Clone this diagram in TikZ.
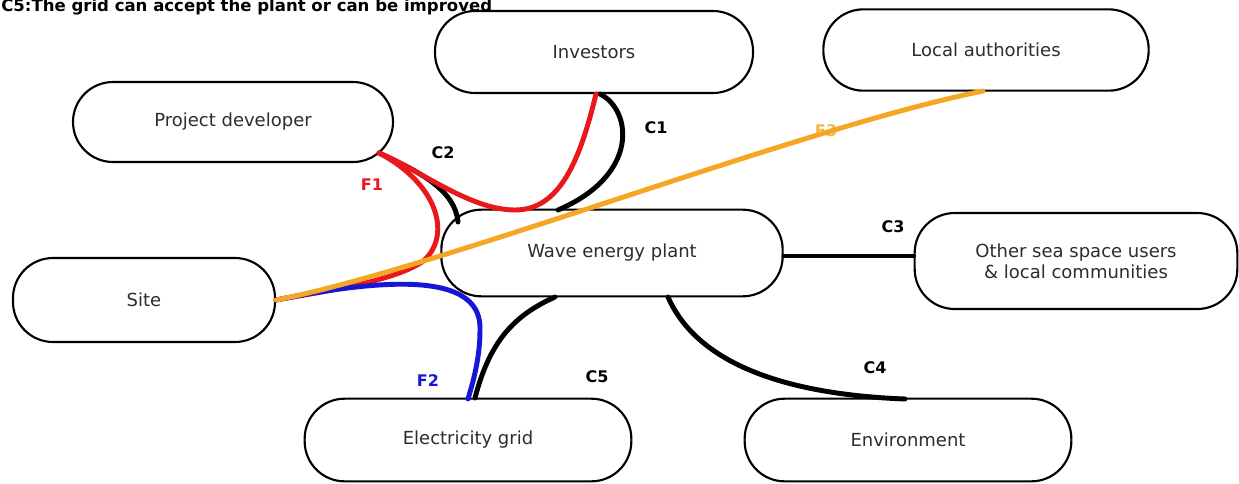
\documentclass[tikz,border=0pt]{standalone}
\usepackage{fontspec}
\setmainfont{DejaVu Sans}
\definecolor{fred}{RGB}{232,24,28}
\definecolor{fblue}{RGB}{22,22,215}
\definecolor{forange}{RGB}{245,166,35}
\definecolor{txt}{RGB}{45,45,45}
\begin{document}
\begin{tikzpicture}[x=0.75pt,y=-0.75pt,
  box/.style={draw=black,line width=1.6pt,fill=white,rounded corners=30pt,
    text=txt,font=\fontsize{13.5}{16}\selectfont,align=center,inner sep=0pt},
  link/.style={line width=3.7pt,line cap=round},
  lab/.style={font=\bfseries\fontsize{12}{14}\selectfont}]
\useasboundingbox (0,0) rectangle (1239,483);
\clip (0,0) rectangle (1239,483);
\fill[white] (0,0) rectangle (1239,483);
% title (cut off at the top)
\node[font=\bfseries\fontsize{12.4}{14}\selectfont,anchor=base west,inner sep=0pt,text=black] (title) at (1,11) {C5:The grid can accept the plant or can be improved};
% nodes
\node[box,minimum width=238.5pt,minimum height=61.5pt] (inv) at (594,52) {Investors};
\node[box,minimum width=244pt,minimum height=61pt] (loc) at (986,50) {Local authorities};
\node[box,minimum width=240pt,minimum height=60pt] (pd) at (233,122) {Project developer};
\node[box,minimum width=196.5pt,minimum height=63pt] (site) at (144,300) {Site};
\node[box,minimum width=256pt,minimum height=65pt] (wave) at (612,253) {Wave energy plant};
\node[box,minimum width=242pt,minimum height=72pt] (oth) at (1076,261) {Other sea space users\\\& local communities};
\node[box,minimum width=245pt,minimum height=62pt] (grid) at (468,440) {Electricity grid};
\node[box,minimum width=245pt,minimum height=62pt] (env) at (908,440) {Environment};
% labels
\node[lab] (lc1) at (656,128) {C1};
\node[lab] (lc2) at (443,153) {C2};
\node[lab] (lc3) at (893,227) {C3};
\node[lab] (lc4) at (875,368) {C4};
\node[lab] (lc5) at (597,377) {C5};
\node[lab,text=fred] (lf1) at (372,185) {F1};
\node[lab,text=fblue] (lf2) at (428,381) {F2};
\node[lab,text=forange!80] (lf3) at (826,131) {F3};
% black connectors
\draw[link] ([shift={(6,42)}]inv.center) .. controls (632,110) and (640,175) .. ([shift={(-54,-43)}]wave.center);
\draw[link] ([shift={(146,31)}]pd.center) .. controls (420,172) and (455,190) .. ([shift={(-154,-31)}]wave.center);
\draw[link] (wave.east |- 0,256) -- (oth.west |- 0,256);
\draw[link] ([shift={(56,44)}]wave.center) .. controls (700,370) and (800,395) .. ([shift={(-3,-41)}]env.center);
\draw[link] ([shift={(7,-42)}]grid.center) .. controls (490,340) and (515,315) .. ([shift={(-57,44)}]wave.center);
% red F1
\draw[link,fred] ([shift={(2,42)}]inv.center) .. controls (580,160) and (560,210) .. (515,210)
   .. controls (470,210) and (420,170) .. ([shift={(146,31)}]pd.center);
\draw[link,fred] ([shift={(146,31)}]pd.center) .. controls (440,185) and (452,238) .. (422,262)
   .. controls (392,282) and (320,292) .. (site.east);
% blue F2
\draw[link,fblue] (site.east) .. controls (400,275) and (482,276) .. (480,330)
   .. controls (480,360) and (472,385) .. ([shift={(0,-41)}]grid.center);
% orange F3
\draw[link,forange] (site.east) .. controls (440,268) and (800,128) .. ([shift={(-3,41)}]loc.center);
\end{tikzpicture}
\end{document}
